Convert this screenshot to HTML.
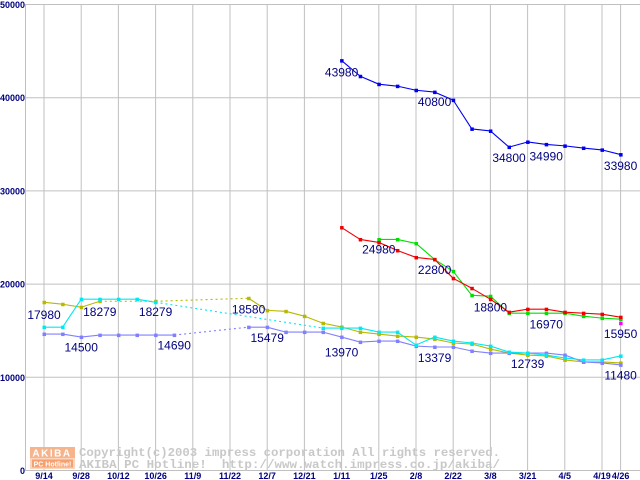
<!DOCTYPE html>
<html><head><meta charset="utf-8"><style>
html,body{margin:0;padding:0;background:#fff}
svg{display:block}
</style></head><body>
<svg id="chart" width="640" height="480" viewBox="0 0 640 480" xmlns="http://www.w3.org/2000/svg" font-family="Liberation Sans, sans-serif">
<g id="grid"></g>
<g id="axes"></g>
<g id="watermark">
  <rect x="30" y="447" width="45" height="11" fill="#f6b48c"/>
  <text x="52" y="456.5" font-size="10" font-weight="bold" fill="#fff" text-anchor="middle" letter-spacing="1.5">AKIBA</text>
  <rect x="30" y="458" width="45" height="11" fill="#fbd6bd"/>
  <rect x="32" y="459.5" width="41" height="8" fill="#f6a070"/>
  <text x="52.5" y="466.5" font-size="7" font-weight="bold" fill="#fff" text-anchor="middle">PC Hotline!</text>
  <text x="79" y="456" style="font-family:'Liberation Mono',monospace" font-size="12" font-weight="bold" fill="#c8c8c8" textLength="421" lengthAdjust="spacingAndGlyphs">Copyright(c)2003 impress corporation All rights reserved.</text>
  <text x="79" y="468" style="font-family:'Liberation Mono',monospace" font-size="12" font-weight="bold" fill="#c8c8c8" textLength="421" lengthAdjust="spacingAndGlyphs" xml:space="preserve">AKIBA PC Hotline!  http://www.watch.impress.co.jp/akiba/</text>
</g>
<g id="series"></g>
<g id="labels"></g>
</svg>
<script>
const xLabels = ["9/14","9/28","10/12","10/26","11/9","11/22","12/7","12/21","1/11","1/25","2/8","2/22","3/8","3/21","4/5","4/19","4/26"];
const xLabelIdx = [0,2,4,6,8,10,12,14,16,18,20,22,24,26,28,30,31];
const yTicks = [0,10000,20000,30000,40000,50000];
// weekly values, null = no point
const blueSeries = [null,null,null,null,null,null,null,null,null,null,null,null,null,null,null,null,43980,42300,41450,41240,40800,40600,39740,36650,36430,34700,35250,34990,34830,34600,34400,33900];
const redSeries = [null,null,null,null,null,null,null,null,null,null,null,null,null,null,null,null,26070,24790,24470,23610,22860,22650,20620,19550,18380,16990,17310,17310,16990,16880,16770,16450];
const greenSeries = [null,null,null,null,null,null,null,null,null,null,null,null,null,null,null,null,null,null,24790,24790,24360,22650,21370,18800,18700,16880,16880,16880,16880,16560,16350,16240];
const oliveSeries = [18050,17840,17520,18160,null,null,18160,null,null,null,null,18480,17180,17080,16560,15800,15400,14850,14640,14420,14320,14100,13680,13570,13030,12600,12390,12290,11860,11650,11650,11540];
const cyanSeries = [15380,15380,18380,18380,18380,18380,18050,null,null,null,null,null,null,null,null,15280,15280,15280,14850,14850,13460,14320,13890,13680,13350,12710,12600,12390,12070,11860,11860,12290];
const lavenderSeries = [14640,14640,14320,14530,14530,14530,14530,14530,null,null,null,15380,15380,14850,14850,14850,14320,13780,13890,13890,13350,13250,13250,12820,12600,12600,12600,12600,12390,11650,11540,11330];
const magentaSeries = [null,null,null,null,null,null,null,null,null,null,null,null,null,null,null,null,null,null,null,null,null,null,null,null,null,null,null,null,null,null,null,15800];
const labelTexts = ["43980","40800","34800","34990","33980","24980","22800","18800","16970","15950","17980","18279","18279","18580","14500","14690","15479","13970","13379","12739","11480"];
const labelIdx = [16,21,25,27,31,18,21,24,27,31,0,3,6,11,2,7,12,16,21,26,31];
const labelVals = [43980,40800,34800,34990,33980,24980,22800,18800,16970,15950,17980,18279,18279,18580,14500,14690,15479,13970,13379,12739,11480];

const NS="http://www.w3.org/2000/svg";
function X(i){return 44+i*18.6;}
function Y(v){return 470.5-v*0.00932;}
function mk(tag,attrs,parent){const e=document.createElementNS(NS,tag);for(const k in attrs)e.setAttribute(k,attrs[k]);parent.appendChild(e);return e;}
const grid=document.getElementById('grid'),axes=document.getElementById('axes'),ser=document.getElementById('series'),lab=document.getElementById('labels');
const yl=mk('line',{x1:25.5,y1:4,x2:25.5,y2:471,stroke:'#c0c0c0'},grid);


yTicks.forEach(t=>{
  const l=mk('line',{x1:25,y1:Y(t),x2:640,y2:Y(t),stroke:'#c0c0c0'},grid);
  
  
  const tx=mk('text',{x:25,y:Y(t)+3.5,'font-size':9,'font-weight':'bold',fill:'#000080','text-anchor':'end'},axes);
  tx.textContent=t;
  
  
});
xLabels.forEach((s,k)=>{
  const x=X(xLabelIdx[k]);
  const l=mk('line',{x1:x,y1:4,x2:x,y2:471,stroke:'#c0c0c0'},grid);
  
  
  const tx=mk('text',{x:x,y:479,'font-size':9,'font-weight':'bold',fill:'#000080','text-anchor':'middle'},axes);
  tx.textContent=s;
  
  
});
function draw(data,color,name){
  const g=mk('g',{},ser);
  
  
  let prev=-1;
  data.forEach((v,i)=>{
    if(v==null)return;
    if(prev>=0){
      const ln=mk('line',{x1:X(prev),y1:Y(data[prev]),x2:X(i),y2:Y(v),stroke:color,'stroke-width':1.1},g);
      if(i-prev>1)ln.setAttribute('stroke-dasharray','2,3');
      
      
    }
    prev=i;
  });
  data.forEach((v,i)=>{
    if(v==null)return;
    const r=mk('rect',{x:X(i)-1.5,y:Y(v)-1.5,width:3.5,height:3.5,fill:color},g);
    
    
  });
}
draw(oliveSeries,'#b8b800','olive-series');
draw(lavenderSeries,'#8080ff','lavender-series');
draw(cyanSeries,'#00e8f0','cyan-series');
draw(greenSeries,'#00e000','green-series');
draw(redSeries,'#f00000','red-series');
draw(blueSeries,'#0000f0','blue-series');
draw(magentaSeries,'#ff00ff','magenta-series');
labelTexts.forEach((s,k)=>{
  const tx=mk('text',{x:X(labelIdx[k]),y:Y(labelVals[k])+16,'font-size':12,fill:'#000080','text-anchor':'middle'},lab);
  tx.textContent=s;
  
  
});
</script>
</body></html>
